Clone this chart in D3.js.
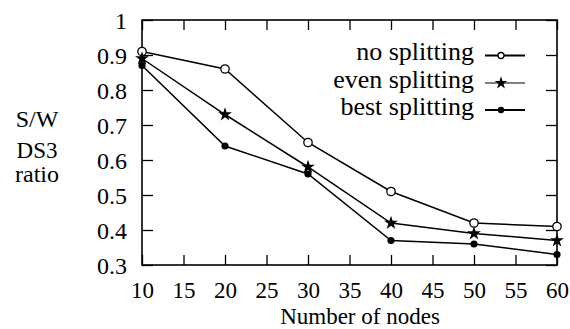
<!DOCTYPE html>
<html>
<head>
<meta charset="utf-8">
<script src="https://cdn.jsdelivr.net/npm/d3@7"></script>
<style>
  body { margin: 0; background: #fff; }
</style>
</head>
<body>
<div id="chart"></div>
<script>
// data
const nodes = [10, 20, 30, 40, 50, 60];
const noSplitting = [0.91, 0.86, 0.65, 0.51, 0.42, 0.41];
const evenSplitting = [0.89, 0.73, 0.58, 0.42, 0.39, 0.37];
const bestSplitting = [0.87, 0.64, 0.56, 0.37, 0.36, 0.33];
const xTicks = [10, 15, 20, 25, 30, 35, 40, 45, 50, 55, 60];
const yTicks = [0.3, 0.4, 0.5, 0.6, 0.7, 0.8, 0.9, 1];
const seriesNames = ["no splitting", "even splitting", "best splitting"];

const width = 570, height = 329;
const margin = { top: 20, right: 13, bottom: 64, left: 142 };
const w = width - margin.left - margin.right;
const h = height - margin.top - margin.bottom;
const serif = "Liberation Serif";

const svg = d3.select("#chart")
  .append("svg")
  .attr("width", width)
  .attr("height", height);

const g = svg.append("g")
  .attr("transform", "translate(" + margin.left + "," + margin.top + ")");

const x = d3.scaleLinear().domain([10, 60]).range([0, w]);
const y = d3.scaleLinear().domain([0.3, 1]).range([h, 0]);

// axes, ticks pointing inwards on all four sides
const yAxis = g.append("g")
  .call(d3.axisLeft(y).tickValues(yTicks).tickSizeInner(-11).tickSizeOuter(0)
    .tickPadding(15).tickFormat(d => d === 1 ? "1" : d3.format(".1f")(d)));
const yAxisR = g.append("g")
  .attr("transform", "translate(" + w + ",0)")
  .call(d3.axisRight(y).tickValues(yTicks).tickSizeInner(-11).tickSizeOuter(0).tickFormat(""));
const xAxis = g.append("g")
  .attr("transform", "translate(0," + h + ")")
  .call(d3.axisBottom(x).tickValues(xTicks).tickSizeInner(-10).tickSizeOuter(0).tickPadding(17));
const xAxisT = g.append("g")
  .call(d3.axisTop(x).tickValues(xTicks).tickSizeInner(-10).tickSizeOuter(0).tickFormat(""));

[yAxis, yAxisR, xAxis, xAxisT].forEach(a => {
  a.attr("font-family", serif).attr("font-size", 24);
  a.select(".domain").remove();
  a.selectAll("line").attr("stroke", "#000").attr("stroke-width", 1.3);
  a.selectAll("text").attr("font-family", serif).attr("font-size", 24).attr("fill", "#000");
});
xAxis.selectAll("text").attr("font-size", 23).attr("dy", "0.71em");
yAxis.selectAll("text").attr("dy", "0.34em");

// frame
g.append("rect")
  .attr("width", w).attr("height", h)
  .attr("fill", "none").attr("stroke", "#000").attr("stroke-width", 1.6);

// axis titles
function label(tx, ty, size, str) {
  svg.append("text").attr("x", tx).attr("y", ty).attr("text-anchor", "middle")
    .attr("font-family", serif).attr("font-size", size).text(str);
}
label(360, 324, 23, "Number of nodes");
label(37, 127, 24, "S/W");
label(37, 158, 23, "DS3");
label(37, 182, 24, "ratio");

const series = [noSplitting, evenSplitting, bestSplitting];
const line = d3.line().x((d, i) => x(nodes[i])).y(d => y(d));

function marker(sel, k, small) {
  if (k === 0) {
    sel.append("circle").attr("r", small ? 3 : 4.2)
      .attr("fill", "#fff").attr("stroke", "#000").attr("stroke-width", 1.3);
  } else if (k === 1) {
    sel.append("path").attr("d", d3.symbol(d3.symbolStar, small ? 50 : 60)())
      .attr("fill", "#000");
  } else {
    sel.append("circle").attr("r", small ? 3.2 : 3.6).attr("fill", "#000");
  }
}

series.forEach((vals, k) => {
  g.append("path")
    .datum(vals)
    .attr("d", line)
    .attr("fill", "none")
    .attr("stroke", "#000")
    .attr("stroke-width", 1.5);
  vals.forEach((v, i) => {
    const m = g.append("g").attr("transform", "translate(" + x(nodes[i]) + "," + y(v) + ")");
    marker(m, k, false);
  });
});

// legend
const legendY = [55.5, 83, 110];
seriesNames.forEach((name, k) => {
  svg.append("text")
    .attr("x", 474).attr("y", legendY[k] + 4.5)
    .attr("text-anchor", "end")
    .attr("font-family", serif).attr("font-size", 26)
    .text(name);
  svg.append("line")
    .attr("x1", 485).attr("x2", 525)
    .attr("y1", legendY[k]).attr("y2", legendY[k])
    .attr("stroke", "#000").attr("stroke-width", k === 1 ? 1.2 : 2);
  const m = svg.append("g").attr("transform", "translate(501," + legendY[k] + ")");
  marker(m, k, true);
});
</script>
</body>
</html>
